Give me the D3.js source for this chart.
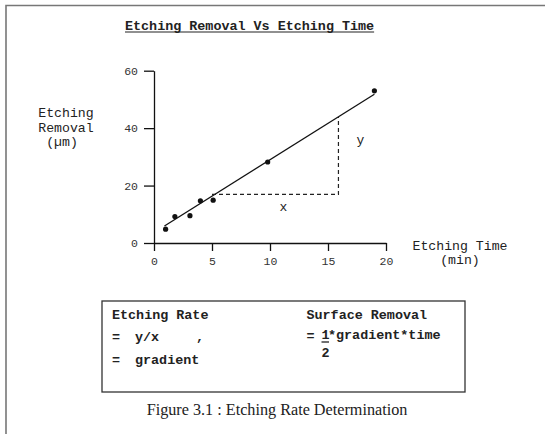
<!DOCTYPE html>
<html lang="en">
<head>
<meta charset="UTF-8">
<title>Etching Removal Vs Etching Time</title>
<script src="https://d3js.org/d3.v7.min.js"></script>
<style>
  body { margin: 0; background: #fff; }
  svg { display: block; }
  .mono { font-family: "Liberation Mono", "Courier New", monospace; fill: #222; }
  .tick text { font-family: "Liberation Mono", "Courier New", monospace; font-size: 11.5px; fill: #333; }
  .axis path, .axis line { stroke: #111; stroke-width: 1.3px; }
  .bold { font-weight: bold; }
</style>
</head>
<body>
<svg width="545" height="434"></svg>
<script>
// data
const times    = [1, 1.8, 3.1, 4, 5.1, 9.8, 19];
const removals = [4.8, 9.2, 9.5, 14.7, 14.9, 28.2, 53];
const xTicks = [0, 5, 10, 15, 20];
const yTicks = [0, 20, 40, 60];
// best-fit line end points
const fitX = [0.9, 19];
const fitY = [5.9, 51.8];
// gradient triangle corners
const triX = [5, 15.9, 15.9];
const triY = [16.9, 16.9, 43.9];

const svg = d3.select("svg");

// page frame (top + left edges only visible)
svg.append("path")
  .attr("d", "M6,600 L6,5.5 L560,5.5")
  .attr("fill", "none").attr("stroke", "#777").attr("stroke-width", 1.6);

// title
const title = svg.append("text").attr("class", "mono bold")
  .attr("x", 125).attr("y", 29.5).attr("font-size", 13.4)
  .text("Etching Removal Vs Etching Time");
const tw = title.node().getComputedTextLength();
svg.append("line").attr("x1", 125).attr("x2", 125 + tw)
  .attr("y1", 32).attr("y2", 32).attr("stroke", "#222").attr("stroke-width", 1.2);

const x = d3.scaleLinear().domain([0, 20]).range([154, 386]);
const y = d3.scaleLinear().domain([0, 60]).range([243, 70.7]);

svg.append("g").attr("class", "axis")
  .attr("transform", "translate(0,243)")
  .call(d3.axisBottom(x).tickValues(xTicks).tickSize(8).tickSizeOuter(0).tickPadding(6));

svg.append("g").attr("class", "axis")
  .attr("transform", "translate(154,0)")
  .call(d3.axisLeft(y).tickValues(yTicks).tickSize(10).tickSizeOuter(0).tickPadding(6));

// axis titles
const yTitle = [["Etching", 66, 117], ["Removal", 66, 131.5], ["(\u00b5m)", 62, 146]];
yTitle.forEach(t => svg.append("text").attr("class", "mono")
  .attr("x", t[1]).attr("y", t[2]).attr("font-size", 13.2)
  .attr("text-anchor", "middle").text(t[0]));
svg.append("text").attr("class", "mono").attr("x", 460).attr("y", 249.5)
  .attr("font-size", 13.2).attr("text-anchor", "middle").text("Etching Time");
svg.append("text").attr("class", "mono").attr("x", 460).attr("y", 263.5)
  .attr("font-size", 13.2).attr("text-anchor", "middle").text("(min)");

// fit line
svg.append("line")
  .attr("x1", x(fitX[0])).attr("y1", y(fitY[0]))
  .attr("x2", x(fitX[1])).attr("y2", y(fitY[1]))
  .attr("stroke", "#111").attr("stroke-width", 1.3);

// gradient triangle
svg.append("path")
  .attr("d", d3.line().x(d => x(d[0])).y(d => y(d[1]))(d3.zip(triX, triY)))
  .attr("fill", "none").attr("stroke", "#222").attr("stroke-width", 1.2)
  .attr("stroke-dasharray", "4,3");

svg.append("text").attr("class", "mono").attr("font-size", 13)
  .attr("x", x(11.15)).attr("y", y(12.6) + 4).attr("text-anchor", "middle").text("x");
svg.append("text").attr("class", "mono").attr("font-size", 13)
  .attr("x", x(17.8)).attr("y", y(35.9) + 4).attr("text-anchor", "middle").text("y");

// data points
svg.selectAll(".pt").data(d3.zip(times, removals)).enter().append("circle")
  .attr("class", "pt")
  .attr("cx", d => x(d[0])).attr("cy", d => y(d[1]))
  .attr("r", 2.6).attr("fill", "#111");

// formula box
svg.append("rect").attr("x", 102).attr("y", 301).attr("width", 363).attr("height", 91)
  .attr("fill", "none").attr("stroke", "#333").attr("stroke-width", 1.3);

const fs = 13.4;
function txt(s, tx, ty) {
  return svg.append("text").attr("class", "mono bold").attr("font-size", fs)
    .attr("x", tx).attr("y", ty).text(s);
}
txt("Etching Rate", 112, 319);
txt("=", 112, 341);
txt("y/x", 135, 341);
txt(",", 196, 341);
txt("=", 112, 364);
txt("gradient", 135, 364);
txt("Surface Removal", 306.5, 319);
txt("=", 306.5, 340);
txt("1", 321.5, 339);
txt("*gradient*time", 328, 339);
txt("2", 321.5, 357);
svg.append("line").attr("x1", 321.5).attr("x2", 329).attr("y1", 342).attr("y2", 342)
  .attr("stroke", "#222").attr("stroke-width", 1.3);

// caption
svg.append("text").attr("x", 277).attr("y", 415)
  .attr("font-family", "'Liberation Serif', 'Times New Roman', serif")
  .attr("font-size", 16.2).attr("fill", "#222").attr("text-anchor", "middle")
  .text("Figure 3.1 : Etching Rate Determination");
</script>
</body>
</html>
